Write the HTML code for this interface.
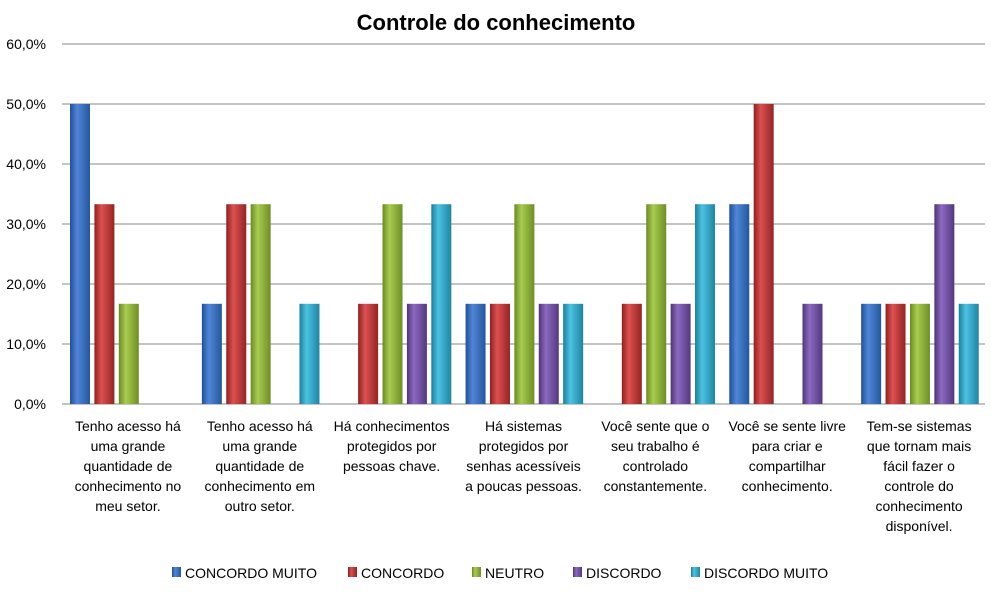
<!DOCTYPE html>
<html><head><meta charset="utf-8"><style>
body{margin:0;background:#fff;font-family:"Liberation Sans",sans-serif;}
svg text{font-family:"Liberation Sans",sans-serif;}
</style></head><body>
<svg id="chart" width="991" height="591" xmlns="http://www.w3.org/2000/svg">
<defs>
<linearGradient id="g0" x1="0" x2="1"><stop offset="0" stop-color="#1f4f9a"/><stop offset="0.35" stop-color="#4f86d6"/><stop offset="1" stop-color="#24579f"/></linearGradient>
<linearGradient id="g1" x1="0" x2="1"><stop offset="0" stop-color="#8f2020"/><stop offset="0.35" stop-color="#dc5050"/><stop offset="1" stop-color="#952424"/></linearGradient>
<linearGradient id="g2" x1="0" x2="1"><stop offset="0" stop-color="#6a8a22"/><stop offset="0.35" stop-color="#a8cc50"/><stop offset="1" stop-color="#6e8e24"/></linearGradient>
<linearGradient id="g3" x1="0" x2="1"><stop offset="0" stop-color="#4f3478"/><stop offset="0.35" stop-color="#8c6ac0"/><stop offset="1" stop-color="#533880"/></linearGradient>
<linearGradient id="g4" x1="0" x2="1"><stop offset="0" stop-color="#1a7f9c"/><stop offset="0.35" stop-color="#4cc2e2"/><stop offset="1" stop-color="#1e85a2"/></linearGradient>
</defs>
<text x="496" y="30" text-anchor="middle" font-size="22" font-weight="bold" fill="#000">Controle do conhecimento</text>
<g id="grid"></g><g id="bars"></g><g id="labels"></g><g id="legend"></g>
</svg>
<script>
const categories=[["Tenho acesso há","uma grande","quantidade de","conhecimento no","meu setor."],["Tenho acesso há","uma grande","quantidade de","conhecimento em","outro setor."],["Há conhecimentos","protegidos por","pessoas chave."],["Há sistemas","protegidos por","senhas acessíveis","a poucas pessoas."],["Você sente que o","seu trabalho é","controlado","constantemente."],["Você se sente livre","para criar e","compartilhar","conhecimento."],["Tem-se sistemas","que tornam mais","fácil fazer o","controle do","conhecimento","disponível."]];
const seriesNames=["CONCORDO MUITO","CONCORDO","NEUTRO","DISCORDO","DISCORDO MUITO"];
const concordoMuito=[50,16.7,0,16.7,0,33.3,16.7];
const concordo=[33.3,33.3,16.7,16.7,16.7,50,16.7];
const neutro=[16.7,33.3,33.3,33.3,33.3,0,16.7];
const discordo=[0,0,16.7,16.7,16.7,16.7,33.3];
const discordoMuito=[0,16.7,33.3,16.7,33.3,0,16.7];
const yTicks=[0,10,20,30,40,50,60];
const series=[concordoMuito,concordo,neutro,discordo,discordoMuito];
const NS="http://www.w3.org/2000/svg";
const X0=62,X1=985,Y0=404,Y1=44,YMAX=60;
const y=v=>Y0-(v/YMAX)*(Y0-Y1);
const cw=(X1-X0)/categories.length;
const x=(c,s)=>X0+c*cw+8+s*24.4;
function mk(t,a,p){const e=document.createElementNS(NS,t);for(const k in a)e.setAttribute(k,a[k]);p.appendChild(e);return e;}
const grid=document.getElementById('grid');
yTicks.forEach(t=>{
 const l=mk('line',{x1:X0,x2:X1,y1:y(t),y2:y(t),stroke:t===0?'#888':'#888','stroke-width':1},grid);
 
 
 const tx=mk('text',{x:X0-16,y:y(t)+5,'text-anchor':'end','font-size':14,fill:'#000'},grid);
 tx.textContent=t.toFixed(1).replace('.',',')+'%';
 
 
});
const bars=document.getElementById('bars');
series.forEach((vals,s)=>vals.forEach((v,c)=>{
 if(v<=0)return;
 const r=mk('rect',{x:x(c,s),y:y(v),width:20,height:Y0-y(v),fill:'url(#g'+s+')'},bars);
 
 
}));
const labels=document.getElementById('labels');
categories.forEach((lines,c)=>{
 const t=mk('text',{x:X0+c*cw+cw/2,y:431,'text-anchor':'middle','font-size':14,fill:'#000'},labels);
 
 
 lines.forEach((ln,i)=>{const ts=mk('tspan',{x:X0+c*cw+cw/2,dy:i?20:0},t);ts.textContent=ln;});
});
const legend=document.getElementById('legend');
const lx=[172,348,472,573,691];
seriesNames.forEach((n,i)=>{
 const g=mk('g',{},legend);
 
 
 mk('rect',{x:lx[i],y:567,width:9,height:10,fill:'url(#g'+i+')'},g);
 const t=mk('text',{x:lx[i]+13,y:578,'font-size':14,fill:'#000'},g);t.textContent=n;
});
</script>
</body></html>
